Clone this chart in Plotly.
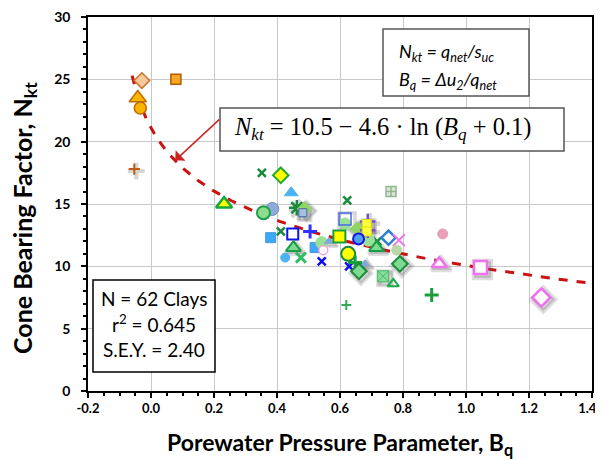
import numpy as np
import plotly.graph_objects as go

# ---------------- data ----------------
bq = [-0.029, 0.079, -0.042, -0.034, -0.053, 0.232, 0.352, 0.412, 0.445, 0.385,
      0.357, 0.463, 0.487, 0.482, 0.380, 0.412, 0.450, 0.505, 0.542, 0.521,
      0.547, 0.426, 0.452, 0.476, 0.542, 0.565, 0.623, 0.762, 0.616, 0.616,
      0.688, 0.685, 0.685, 0.688, 0.655, 0.598, 0.659, 0.690, 0.718, 0.716,
      0.754, 0.787, 0.780, 0.626, 0.648, 0.629, 0.679, 0.660, 0.790, 0.737,
      0.769, 0.891, 0.926, 0.915, 1.046, 1.239, 0.620]
nkt = [24.9, 25.0, 23.5, 22.7, 17.8, 15.0, 17.5, 17.3, 15.9, 14.6,
       14.3, 14.7, 14.6, 14.3, 12.3, 12.8, 12.6, 12.8, 11.9, 11.5,
       11.3, 10.7, 11.5, 10.7, 10.4, 12.0, 15.3, 16.0, 13.8, 13.4,
       13.6, 13.4, 12.8, 12.9, 13.0, 12.4, 12.2, 12.1, 12.0, 11.5,
       12.3, 12.1, 11.3, 11.0, 10.3, 10.0, 10.2, 9.6, 10.2, 9.2,
       8.6, 7.7, 12.6, 10.2, 9.9, 7.5, 6.9]
clay_marker = ["peach_diamond", "orange_square", "gold_triangle", "gold_circle", "orange_plus",
               "yellow_triangle_g", "green_x", "yellow_diamond_g", "lightblue_triangle", "steel_circle",
               "green_circle", "green_asterisk", "lightgreen_diamond", "gray_square", "lightblue_square",
               "green_x", "blue_open_square", "blue_plus", "lightgreen_circle", "lightblue_square",
               "pink_open_circle", "lightblue_circle", "green_triangle", "lightgreen_x", "blue_x",
               "small_triangle", "green_x", "gray_plus", "blue_square_open", "lightgreen_circle",
               "purple_plus", "yellow_square", "yellow_square", "purple_plus", "lightgreen_diamond",
               "yellow_square_g", "blue_circle", "lightgreen_circle", "green_x", "green_triangle",
               "blue_diamond", "magenta_x", "olive_circle", "yellow_circle_g", "green_plus",
               "blue_x", "small_triangle", "green_diamond", "green_diamond", "lightgreen_xsquare",
               "green_open_triangle", "green_plus", "pink_circle", "magenta_triangle", "magenta_square",
               "magenta_diamond", "green_plus_faint"]

fit_a, fit_b, fit_c = 10.5, 4.6, 0.1
fit_range = [-0.06, 1.42]
x_ticks = [-0.2, 0.0, 0.2, 0.4, 0.6, 0.8, 1.0, 1.2, 1.4]
x_tick_labels = ["-0.2", "0.0", "0.2", "0.4", "0.6", "0.8", "1.0", "1.2", "1.4"]
y_ticks = [0, 5, 10, 15, 20, 25, 30]

# ---------------- styles ----------------
S = {
    "peach_diamond": ("diamond", "#F9C89B", "#C8742E", 12, 1.5),
    "orange_square": ("square", "#F5A623", "#B35C00", 10, 1.5),
    "gold_triangle": ("triangle-up", "#F7B500", "#C06A00", 15, 1.5),
    "gold_circle": ("circle", "#F7B500", "#C06A00", 12, 1.5),
    "orange_plus": ("cross-thin-open", "#C05A10", "#C05A10", 8, 2),
    "yellow_triangle_g": ("triangle-up", "#FFFF00", "#14A83C", 14, 2.5),
    "green_x": ("x-thin-open", "#1A8A3C", "#1A8A3C", 8, 2.5),
    "yellow_diamond_g": ("diamond", "#FFFF00", "#22AA33", 12, 2),
    "lightblue_triangle": ("triangle-up", "#4DB3F0", "#4DB3F0", 12, 1),
    "steel_circle": ("circle", "#8EAADB", "#6C8EBF", 13, 1),
    "green_circle": ("circle", "#8EDC8E", "#1E9E4A", 13, 2),
    "green_asterisk": ("asterisk-open", "#1A8A3C", "#1A8A3C", 13, 2.5),
    "lightgreen_diamond": ("diamond", "#90D468", "#90D468", 11, 1),
    "gray_square": ("square", "#A8C0E0", "#4466AA", 8, 1),
    "lightblue_square": ("square", "#3FA9F5", "#3F9AE0", 10, 1),
    "blue_open_square": ("square", "#FFFFFF", "#1010EE", 11, 2),
    "blue_plus": ("cross-thin-open", "#3030FF", "#3030FF", 10, 3),
    "lightgreen_circle": ("circle", "#99E099", "#99E099", 12, 1),
    "small_triangle": ("triangle-up", "#7FA8D8", "#7FA8D8", 8, 1),
    "pink_open_circle": ("circle", "#FFFFFF", "#F4A0D8", 9, 1.5),
    "lightblue_circle": ("circle", "#4DB3F0", "#4DB3F0", 9, 1),
    "green_triangle": ("triangle-up", "#7CDB8C", "#1A9E4A", 13, 2),
    "lightgreen_x": ("x-thin-open", "#33BB66", "#33BB66", 10, 3),
    "blue_x": ("x-thin-open", "#1010EE", "#1010EE", 8, 2.5),
    "yellow_square_g": ("square", "#FFFF00", "#1A9E3A", 12, 2),
    "blue_square_open": ("square-open", "#4A6AE8", "#4A6AE8", 12, 1.5),
    "purple_plus": ("cross-thin-open", "#7A50D0", "#7A50D0", 11, 2.5),
    "yellow_square": ("square", "#FFFF40", "#E0E000", 9, 1),
    "blue_circle": ("circle", "#4FA0F8", "#1515E8", 11, 2),
    "yellow_circle_g": ("circle", "#FFFF00", "#1A8A3C", 14, 2),
    "green_plus": ("cross-thin-open", "#1A9E3A", "#1A9E3A", 10, 3),
    "green_diamond": ("diamond", "#7CDB8C", "#1A8A3C", 12, 2),
    "blue_diamond": ("diamond", "#FFFFFF", "#2A80D0", 11, 2.5),
    "magenta_x": ("x-thin-open", "#F070F0", "#F070F0", 12, 2),
    "olive_circle": ("circle", "#BBD8A8", "#BBD8A8", 10, 1),
    "lightgreen_xsquare": ("square-x", "#88DD99", "#44BB66", 11, 1),
    "green_open_triangle": ("triangle-up-open", "#1AAA4A", "#1AAA4A", 10, 2),
    "gray_plus": ("square-cross", "#DDE6D6", "#90B890", 10, 1.5),
    "pink_circle": ("circle", "#E8A0B8", "#E8A0B8", 10, 1),
    "magenta_triangle": ("triangle-up", "#FFFFFF", "#F070F0", 13, 2.5),
    "magenta_square": ("square", "#FFFFFF", "#F070F0", 13, 2.5),
    "magenta_diamond": ("diamond", "#FFFFFF", "#F070F0", 14, 2.5),
    "green_plus_faint": ("cross-thin-open", "#33AA55", "#33AA55", 7, 2),
}
# marker styles drawn with a soft drop shadow in the original
shadowed = {"orange_plus", "green_asterisk", "gray_square", "magenta_triangle", "magenta_square",
            "magenta_diamond", "blue_square_open", "purple_plus", "green_triangle", "green_diamond",
            "small_triangle", "lightgreen_xsquare", "yellow_square", "lightgreen_diamond"}

# page offset (body margin) compensation: figure drawn 8px in from window corner
OFF = 8
W, H = 603 - OFF, 459 - OFF
PL, PR, PT, PB = 88, 592, 17, 391   # target plot-area edges in window pixels
X0, X1, Y0, Y1 = -0.2, 1.4, 0, 30
dx_px = (X1 - X0) / (PR - PL)       # data units per pixel
dy_px = (Y1 - Y0) / (PB - PT)

def px(p):
    return (p - PL) / (PR - PL)
def py(p):
    return (PB - p) / (PB - PT)

fig = go.Figure()

# fit curve
xf = np.linspace(fit_range[0], fit_range[1], 200)
yf = fit_a - fit_b * np.log(xf + fit_c)
fig.add_trace(go.Scatter(x=xf, y=yf, mode="lines",
                         line=dict(color="#CC1111", width=3, dash="dash"),
                         hoverinfo="skip", showlegend=False))

order = []
for k in clay_marker:
    if k not in order:
        order.append(k)

# shadows
for key in order:
    if key not in shadowed:
        continue
    idx = [i for i, k in enumerate(clay_marker) if k == key]
    sym, fill, edge, size, lw = S[key]
    fig.add_trace(go.Scatter(
        x=[bq[i] + 2 * dx_px for i in idx], y=[nkt[i] - 2 * dy_px for i in idx], mode="markers",
        marker=dict(symbol=sym, color="rgba(90,90,90,0.25)", size=size + 4,
                    line=dict(color="rgba(90,90,90,0.2)", width=lw + 2)),
        hoverinfo="skip", showlegend=False))

# markers grouped by style
for key in order:
    idx = [i for i, k in enumerate(clay_marker) if k == key]
    sym, fill, edge, size, lw = S[key]
    fig.add_trace(go.Scatter(
        x=[bq[i] for i in idx], y=[nkt[i] for i in idx], mode="markers",
        marker=dict(symbol=sym, color=fill, size=size,
                    line=dict(color=edge, width=lw)),
        showlegend=False, name=key))

FONT = "Lato"
shapes = []
annotations = []

# top-right definitions box
shapes.append(dict(type="rect", xref="paper", yref="paper",
                   x0=px(383), x1=px(529), y0=py(96), y1=py(29),
                   line=dict(color="#555555", width=1.5), fillcolor="white", layer="above"))
annotations.append(dict(xref="paper", yref="paper", x=px(397), y=py(52), xanchor="left", yanchor="middle",
                        showarrow=False, font=dict(family=FONT, size=18, color="black"),
                        text="<i>N<sub>kt</sub> = q<sub>net</sub>/s<sub>uc</sub></i>"))
annotations.append(dict(xref="paper", yref="paper", x=px(397), y=py(80), xanchor="left", yanchor="middle",
                        showarrow=False, font=dict(family=FONT, size=18, color="black"),
                        text="<i>B<sub>q</sub> = Δu<sub>2</sub>/q<sub>net</sub></i>"))

# equation box
shapes.append(dict(type="rect", xref="paper", yref="paper",
                   x0=px(220), x1=px(564), y0=py(151), y1=py(108),
                   line=dict(color="#555555", width=1.5), fillcolor="white", layer="above"))
annotations.append(dict(xref="paper", yref="paper", x=px(232), y=py(129), xanchor="left", yanchor="middle",
                        showarrow=False, font=dict(family="Liberation Serif", size=24.5, color="black"),
                        text="<i>N</i><sub><i>kt</i></sub> = 10.5 − 4.6 · ln (<i>B</i><sub><i>q</i></sub> + 0.1)"))

# arrow from box to curve
annotations.append(dict(x=0.077, y=18.5, ax=0.222, ay=21.9, xref="x", yref="y", axref="x", ayref="y",
                        showarrow=True, arrowhead=1, arrowsize=1.6, arrowwidth=1.5,
                        arrowcolor="#CC2222", text=""))

# stats box
shapes.append(dict(type="rect", xref="paper", yref="paper",
                   x0=px(93), x1=px(215), y0=py(372), y1=py(280),
                   line=dict(color="black", width=1.5), fillcolor="white", layer="above"))
for txt, yy in [("N = 62 Clays", 298), ("r<sup>2</sup> = 0.645", 323), ("S.E.Y. = 2.40", 349)]:
    annotations.append(dict(xref="paper", yref="paper", x=px(154), y=py(yy), xanchor="center",
                            yanchor="middle", showarrow=False,
                            font=dict(family=FONT, size=19, color="black"), text=txt))

# axis titles
annotations.append(dict(xref="paper", yref="paper", x=px(340), y=py(444), xanchor="center", yanchor="middle",
                        showarrow=False, font=dict(family=FONT, size=23, color="black", weight="bold"),
                        text="Porewater Pressure Parameter, B<sub>q</sub>"))
annotations.append(dict(xref="paper", yref="paper", x=px(24), y=py(218), xanchor="center", yanchor="middle",
                        showarrow=False, textangle=-90,
                        font=dict(family=FONT, size=25, color="black", weight="bold"),
                        text="Cone Bearing Factor, N<sub>kt</sub>"))

# last x label sits at the page edge: pad it so it stays fully visible
x_ticktext = x_tick_labels[:-1] + [x_tick_labels[-1] + "\u00a0\u00a0\u00a0"]

fig.update_layout(
    width=W, height=H, autosize=False,
    margin=dict(l=PL - OFF, r=W - (PR - OFF), t=PT - OFF, b=H - (PB - OFF), autoexpand=False),
    paper_bgcolor="white", plot_bgcolor="white",
    shapes=shapes, annotations=annotations,
    xaxis=dict(range=[X0, X1], tickvals=x_ticks, ticktext=x_ticktext,
               automargin=False, ticklabeloverflow="allow",
               showgrid=True, gridcolor="#C8C8C8", gridwidth=1,
               showline=True, linecolor="black", linewidth=1.5, mirror=True,
               ticks="outside", ticklen=5, tickcolor="black", tickwidth=1.5,
               minor=dict(dtick=0.05, tick0=0, ticks="outside", ticklen=3, tickcolor="black", showgrid=False),
               tickfont=dict(family=FONT, size=13, color="black", weight="bold"),
               zeroline=False),
    yaxis=dict(range=[Y0, Y1], tickvals=y_ticks, automargin=False, ticklabeloverflow="allow",
               showgrid=True, gridcolor="#C8C8C8", gridwidth=1,
               showline=True, linecolor="black", linewidth=1.5, mirror=True,
               ticks="outside", ticklen=5, tickcolor="black", tickwidth=1.5,
               minor=dict(dtick=1, tick0=0, ticks="outside", ticklen=3, tickcolor="black", showgrid=False),
               tickfont=dict(family=FONT, size=14, color="black", weight="bold"),
               ticklabelstandoff=8,
               zeroline=False),
)

fig.write_html("out.html")
